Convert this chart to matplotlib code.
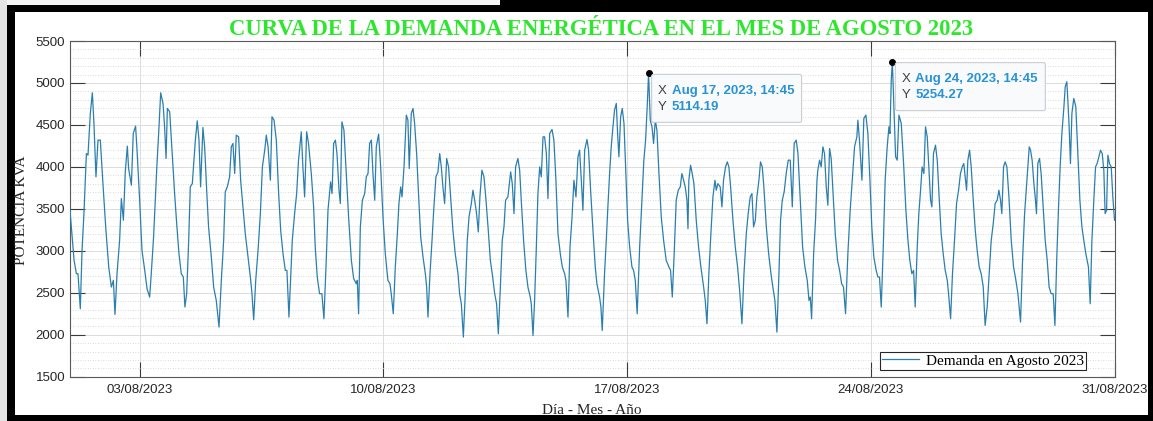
import numpy as np
import pandas as pd
import matplotlib
matplotlib.use("Agg")
import matplotlib.pyplot as plt
import matplotlib.dates as mdates
from matplotlib.patches import Rectangle, FancyBboxPatch
from matplotlib.transforms import IdentityTransform
from matplotlib.ticker import MultipleLocator

# ---------------------------------------------------------------------------
# Demanda (kVA) registrada en agosto de 2023: (horas desde 01/08 00:00, kVA)
# ---------------------------------------------------------------------------
tramo_01_08 = [
    (0.0, 3480), (2.8, 2887), (4.4, 2727), (5.5, 2727), (7.1, 2310), (8.3, 3006),
    (9.6, 3443), (11.3, 4159), (12.4, 4140), (14.0, 4637), (15.4, 4883), (16.5, 4517),
    (17.9, 3881), (19.3, 4319), (20.9, 4319), (22.7, 3801), (24.6, 3284), (26.7, 2807),
    (28.5, 2568), (29.9, 2648), (31.0, 2242), (32.4, 2727), (34.2, 3125), (35.4, 3622),
    (36.8, 3364), (38.1, 3941), (39.5, 4247), (40.4, 3980), (42.3, 3782), (43.6, 4398),
    (45.2, 4486), (46.2, 4199), (48.0, 3603), (49.6, 3006), (51.5, 2767), (53.1, 2548),
    (54.9, 2449), (56.0, 2727), (57.6, 3165), (58.8, 3603), (59.9, 4020), (61.1, 4398),
    (62.5, 4883), (64.1, 4756), (65.2, 4478), (66.2, 4100), (67.1, 4696), (68.7, 4657),
    (70.3, 4199), (72.1, 3682), (73.7, 3284), (75.1, 2966), (76.7, 2727), (78.1, 2688),
    (79.2, 2330), (80.4, 2489), (81.8, 3125), (82.9, 3762), (84.3, 3801), (85.4, 4080),
    (86.4, 4319), (87.7, 4549), (88.9, 4319), (90.0, 3762), (91.6, 4470), (92.8, 4239),
    (94.2, 3722), (95.5, 3284), (97.4, 2926), (99.0, 2568), (100.8, 2409), (102.7, 2091),
    (104.3, 2648), (105.9, 3125), (107.0, 3702), (108.4, 3762), (110.0, 3881), (111.2, 4239),
    (112.3, 4279), (113.5, 3921), (114.6, 4378), (116.2, 4358), (117.6, 3841), (119.2, 3523),
    (120.8, 3205), (122.7, 2926), (124.3, 2688), (125.4, 2489), (126.6, 2178), (128.0, 2648),
    (129.6, 3006), (131.2, 3443), (132.6, 4000), (134.2, 4199), (135.3, 4378), (136.5, 4239),
    (138.1, 3841), (139.2, 4597), (140.6, 4557), (142.2, 4319), (143.8, 3682), (145.2, 3244),
    (146.8, 2966), (148.4, 2767), (149.5, 2767), (150.9, 2210), (152.0, 2648), (153.2, 3125),
    (154.8, 3443), (156.2, 3682), (157.5, 4080), (159.4, 4418), (160.5, 4000), (161.7, 3642),
    (163.1, 4418), (164.4, 4279), (166.3, 3921), (167.9, 3523), (169.0, 3046), (170.4, 2688),
    (172.0, 2489), (173.6, 2489), (175.0, 2190), (176.6, 2887),
]

tramo_08_15 = [
    (177.8, 3483), (178.9, 3682), (179.6, 3821), (180.6, 3682), (181.7, 4279), (182.9, 4319),
    (184.0, 4159), (185.4, 3722), (186.3, 3563), (187.4, 4537), (188.8, 4438), (190.4, 3921),
    (192.0, 3404), (193.9, 2887), (195.5, 2668), (197.3, 2608), (198.0, 2648), (198.9, 2250),
    (200.1, 3284), (201.5, 3603), (203.1, 3682), (204.2, 3881), (205.4, 3921), (206.5, 4279),
    (207.7, 4319), (208.8, 3921), (210.0, 3603), (211.1, 4239), (212.7, 4390), (214.1, 4000),
    (215.7, 3404), (217.3, 2966), (219.1, 2648), (220.5, 2608), (221.4, 2489), (222.8, 2250),
    (224.2, 2807), (225.6, 3205), (226.7, 3563), (227.9, 3762), (228.8, 3642), (230.2, 4000),
    (231.8, 4617), (232.9, 4557), (233.8, 3980), (235.2, 4637), (236.4, 4696), (237.5, 4517),
    (238.9, 4159), (240.3, 3642), (241.7, 3165), (243.3, 2926), (244.9, 2727), (245.8, 2568),
    (246.7, 2210), (248.1, 2727), (249.5, 3125), (250.8, 3523), (252.2, 3881), (253.6, 3941),
    (254.8, 4159), (255.9, 4000), (257.0, 3762), (258.2, 3563), (259.6, 4100), (260.9, 4000),
    (262.3, 3642), (263.9, 3244), (265.5, 2966), (267.4, 2727), (268.5, 2489), (269.7, 2369),
    (271.1, 1972), (272.4, 2489), (273.8, 3125), (275.0, 3404), (276.6, 3563), (277.7, 3722),
    (278.9, 3603), (280.2, 3443), (281.4, 3225), (282.5, 3642), (283.9, 3961), (285.3, 3881),
    (286.7, 3603), (288.1, 3284), (289.7, 2887), (291.3, 2688), (292.7, 2489), (294.0, 2369),
    (295.2, 2011), (296.6, 2568), (297.9, 3125), (299.1, 3284), (300.2, 3603), (301.8, 3642),
    (303.7, 3941), (304.8, 3801), (306.0, 3443), (307.1, 4000), (308.7, 4100), (309.9, 3961),
    (311.0, 3603), (312.6, 3125), (314.2, 2767), (315.6, 2568), (317.2, 2449), (317.9, 2369),
    (319.1, 1991), (320.2, 2409), (321.4, 3046), (322.5, 3682), (323.7, 4000), (324.8, 3881),
    (326.0, 4358), (327.1, 4358), (328.3, 4159), (329.4, 3622), (330.6, 4398), (332.2, 4446),
    (333.5, 4319), (334.9, 3841), (336.3, 3205), (337.9, 2966), (339.3, 2807), (340.9, 2727),
    (341.8, 2648), (343.2, 2210), (344.6, 3046), (346.0, 3404), (347.3, 3841), (348.7, 3642),
    (350.1, 4120), (351.2, 4199), (352.4, 3841), (353.5, 3483), (354.7, 4199), (356.3, 4327),
    (357.4, 4199), (358.8, 3722),
]

tramo_16_23 = [
    (360.4, 3250), (362.0, 2807), (363.2, 2600), (365.0, 2449), (365.9, 2330), (366.8, 2051),
    (368.4, 2727), (369.6, 3125), (370.7, 3523), (371.9, 3921), (373.0, 4239), (374.2, 4478),
    (375.3, 4677), (376.5, 4756), (377.4, 4398), (378.3, 4120), (379.5, 4597), (380.6, 4696),
    (381.8, 4517), (382.9, 4000), (384.3, 3364), (385.7, 3046), (387.3, 2807), (388.4, 2767),
    (389.6, 2648), (390.9, 2250), (392.6, 3046), (394.2, 3603), (395.5, 4080), (396.7, 4319),
    (397.8, 4716), (398.75, 5114.19), (399.9, 4557), (401.1, 4478), (402.2, 4279), (403.4, 4557),
    (404.5, 4438), (405.9, 3921), (407.5, 3404), (409.1, 3125), (410.9, 2887), (412.8, 2807),
    (413.9, 2767), (415.1, 2449), (416.4, 2966), (417.8, 3603), (419.2, 3722), (420.6, 3762),
    (421.7, 3921), (422.9, 3841), (424.0, 3762), (425.2, 3603), (425.9, 3264), (426.5, 3841),
    (427.7, 4020), (428.8, 3921), (430.0, 3801), (431.6, 3364), (433.2, 3046), (434.8, 2807),
    (436.7, 2568), (437.8, 2409), (439.0, 2131), (440.3, 2727), (441.7, 3205), (443.1, 3642),
    (444.5, 3841), (445.4, 3722), (446.5, 3801), (448.1, 3762), (449.3, 3523), (450.4, 3841),
    (451.8, 4000), (453.0, 4060), (454.1, 4000), (455.3, 3762), (456.9, 3364), (458.5, 3046),
    (460.1, 2807), (461.5, 2528), (463.1, 2131), (464.5, 2727), (466.1, 3205), (467.4, 3443),
    (468.8, 3642), (470.0, 3682), (471.1, 3284), (472.3, 3364), (473.4, 3642), (474.8, 3841),
    (475.9, 4060), (477.1, 4000), (478.2, 3762), (479.9, 3284), (481.5, 2966), (483.1, 2727),
    (484.4, 2568), (485.8, 2409), (487.2, 2031), (488.6, 2727), (489.7, 3364), (490.9, 3603),
    (492.2, 3702), (493.6, 3921), (495.0, 4080), (496.4, 4080), (497.8, 3523), (499.1, 4279),
    (500.5, 4319), (501.7, 4159), (503.3, 3603), (504.9, 3046), (506.5, 2807), (508.1, 2648),
    (509.3, 2409), (510.2, 2449), (511.1, 2190), (512.5, 2966), (513.8, 3364), (514.8, 3841),
    (515.4, 3961), (516.6, 4080), (517.7, 4000), (518.9, 4239), (520.0, 4159), (521.2, 3762),
    (522.3, 3543), (523.5, 4219), (524.6, 4100), (525.8, 3722), (527.4, 3205), (529.0, 2887),
    (530.4, 2767), (531.8, 2608), (533.1, 2568), (534.5, 2250), (536.1, 2966), (537.7, 3483),
    (539.1, 3841), (540.7, 4239), (542.3, 4358),
]

tramo_23_31 = [
    (543.0, 4557), (544.1, 4319), (545.8, 3841), (547.1, 4577), (548.5, 4617), (549.9, 4398),
    (551.3, 3841), (552.6, 3284), (554.0, 2926), (555.6, 2767), (556.8, 2688), (557.9, 2688),
    (559.1, 2330), (560.5, 3046), (561.8, 3841), (563.2, 4239), (564.4, 4478), (565.1, 4398),
    (566.0, 5035), (566.75, 5254.27), (567.8, 4716), (569.0, 4120), (570.1, 4080), (571.3, 4617),
    (572.9, 4517), (574.5, 4040), (576.1, 3483), (577.5, 3125), (578.8, 2887), (580.2, 2727),
    (581.4, 2767), (582.5, 2330), (583.9, 3046), (585.0, 3443), (586.2, 3722), (587.3, 4000),
    (588.5, 3921), (589.6, 4478), (590.8, 4358), (591.9, 4000), (593.1, 3603), (594.0, 3523),
    (595.1, 4159), (596.5, 4259), (597.7, 4080), (599.0, 3642), (600.4, 3205), (601.8, 2966),
    (603.2, 2767), (604.6, 2648), (605.5, 2489), (606.9, 2190), (608.2, 2727), (609.6, 3125),
    (611.0, 3563), (612.4, 3722), (613.7, 3921), (614.9, 4000), (616.0, 4040), (617.2, 3841),
    (617.9, 3722), (618.8, 4080), (620.0, 4199), (621.1, 4000), (622.5, 3603), (623.9, 3244),
    (625.2, 3006), (626.6, 2807), (628.0, 2727), (629.4, 2568), (630.7, 2111), (632.1, 2330),
    (633.5, 2727), (634.9, 3125), (636.3, 3324), (637.6, 3563), (639.0, 3603), (640.2, 3722),
    (641.3, 3603), (642.2, 3443), (643.4, 4000), (644.5, 4060), (645.7, 4000), (647.1, 3642),
    (648.7, 3125), (650.3, 2807), (651.9, 2648), (653.3, 2489), (655.1, 2151), (656.5, 2887),
    (657.9, 3443), (659.2, 3762), (660.1, 4000), (661.1, 4239), (662.0, 4199), (663.1, 4080),
    (664.3, 3801), (665.2, 3642), (666.1, 3443), (667.0, 4040), (668.2, 4100), (669.3, 3921),
    (670.7, 3523), (672.1, 3125), (673.5, 2887), (674.8, 2568), (676.2, 2489), (677.6, 2489),
    (678.8, 2111), (680.1, 2926), (681.3, 3523), (682.4, 4000), (683.6, 4398), (685.0, 4716),
    (685.9, 4955), (687.0, 5015), (687.7, 4796), (688.6, 4478), (689.5, 4040), (690.5, 4637),
    (691.8, 4816), (693.2, 4716), (694.6, 4159), (696.0, 3603), (697.4, 3284), (698.7, 3125),
    (700.1, 2966), (701.0, 2887), (701.9, 2807), (703.1, 2369), (704.3, 3125), (705.6, 3603),
    (706.8, 4000), (707.9, 4040), (709.1, 4120), (710.2, 4199), (711.4, 4159), (712.5, 3961),
    (713.4, 3443), (714.4, 3483), (715.3, 4140), (716.4, 4040), (717.6, 4000), (718.7, 3642),
    (719.9, 3364),
]

inicio_mes = "2023-08-01 00:00"
fin_mes = "2023-08-31 00:00"
fechas_eje = ["2023-08-03", "2023-08-10", "2023-08-17", "2023-08-24", "2023-08-31"]
marcas_datos = ["2023-08-17 14:45", "2023-08-24 14:45"]

titulo = "CURVA DE LA DEMANDA ENERGÉTICA EN EL MES DE AGOSTO 2023"
etiqueta_x = "Día - Mes - Año"
etiqueta_y = "POTENCIA KVA"
leyenda = "Demanda en Agosto 2023"

# ---------------------------------------------------------------------------
serie = np.array(tramo_01_08 + tramo_08_15 + tramo_16_23 + tramo_23_31, dtype=float)
base = pd.Timestamp(inicio_mes)
tiempo = base + pd.to_timedelta(serie[:, 0], unit="h")
kva = serie[:, 1]

W, H = 1153, 421
fig = plt.figure(figsize=(W / 100, H / 100), dpi=100, facecolor="black")

# white canvas inside the black frame, plus the thin light margin outside it
fig.patches.append(Rectangle((15 / W, (H - 415) / H), (1148 - 15) / W, (415 - 12) / H,
                             transform=fig.transFigure, facecolor="white",
                             edgecolor="none", zorder=-5))
fig.patches.append(Rectangle((0, (H - 5) / H), 500 / W, 5 / H, transform=fig.transFigure,
                             facecolor="#f4f4f4", edgecolor="none", zorder=-5))
fig.patches.append(Rectangle((0, 0), 7 / W, 1, transform=fig.transFigure,
                             facecolor="#e4e4e4", edgecolor="none", zorder=-5))

ax = fig.add_axes([70 / W, (H - 376.7) / H, 1044.7 / W, 335.7 / H])
ax.set_facecolor("white")

linea_color = "#2b7fae"
ax.plot(tiempo, kva, color=linea_color, lw=0.9, label=leyenda, zorder=3)

ax.set_xlim(pd.Timestamp(inicio_mes), pd.Timestamp(fin_mes))
ax.set_ylim(1500, 5500)

ax.set_xticks(pd.to_datetime(fechas_eje))
ax.xaxis.set_major_formatter(mdates.DateFormatter("%d/%m/%Y"))
ax.yaxis.set_major_locator(MultipleLocator(500))
ax.yaxis.set_minor_locator(MultipleLocator(100))

eje_color = "#3a3a3a"
for s in ax.spines.values():
    s.set_color("#5a5a5a")
    s.set_linewidth(0.8)

ax.tick_params(which="major", direction="in", length=10.5, width=0.8, color=eje_color,
               top=True, right=True, labelsize=9.5, labelcolor="#262626")
ax.tick_params(axis="x", which="major", pad=5)
ax.tick_params(axis="y", which="major", pad=3.5)
ax.tick_params(which="minor", length=0)
for lab in ax.get_xticklabels() + ax.get_yticklabels():
    lab.set_family("Liberation Sans")

ax.set_axisbelow(True)
ax.grid(which="major", color="#dcdcdc", lw=0.7, ls="-")
ax.grid(which="minor", axis="y", color="#cfcfcf", lw=0.6, ls=(0, (1, 2)))

leg = ax.legend(loc="lower right", bbox_to_anchor=(0.9725, 0.02), borderaxespad=0,
                prop={"family": "Liberation Serif", "size": 11}, fancybox=False,
                framealpha=1, edgecolor="#262626", handlelength=2.4,
                handletextpad=0.45, borderpad=0.15)
leg.get_frame().set_linewidth(0.8)

fig.text(601.5 / W, (H - 35) / H, titulo, ha="center", va="baseline",
         family="Liberation Serif", weight="bold", size=16.3, color="#2ee62e")
fig.text(592 / W, (H - 414) / H, etiqueta_x, ha="center", va="baseline",
         family="Liberation Serif", size=11, color="#262626")
fig.text(22 / W, 0.501, etiqueta_y, ha="center", va="center", rotation=90,
         family="Liberation Serif", size=11, color="#262626")

# data tips on the selected samples
fig.canvas.draw()
valor_color = "#2a93d5"
for marca in marcas_datos:
    t_m = pd.Timestamp(marca)
    i = int(np.argmin(np.abs((tiempo - t_m).total_seconds())))
    x_m, y_m = tiempo[i], kva[i]
    ax.plot([x_m], [y_m], marker="o", ms=4, color="black", zorder=6, clip_on=False)
    px, py = ax.transData.transform((mdates.date2num(x_m), y_m))
    left, top = px + 3, py - 1
    bw, bh = 150, 48
    caja = FancyBboxPatch((left, top - bh), bw, bh, boxstyle="round,pad=0,rounding_size=2",
                          transform=IdentityTransform(), facecolor="#f8fafc",
                          edgecolor="#c9cdd2", lw=0.8, zorder=7)
    fig.patches.append(caja)
    caja.set_figure(fig)
    filas = [("X", x_m.strftime("%b %d, %Y, %H:%M")), ("Y", f"{y_m:.2f}")]
    for k, (nombre, valor) in enumerate(filas):
        yy = top - 16.5 - 16.3 * k
        fig.text(left + 6.5, yy, nombre, transform=IdentityTransform(), ha="left",
                 va="center", family="Liberation Sans", size=9.5, color="#404040", zorder=8)
        fig.text(left + 20, yy, valor, transform=IdentityTransform(), ha="left",
                 va="center", family="Liberation Sans", size=9.5, weight="bold",
                 color=valor_color, zorder=8)

fig.savefig("out.png", dpi=100, facecolor="black")
